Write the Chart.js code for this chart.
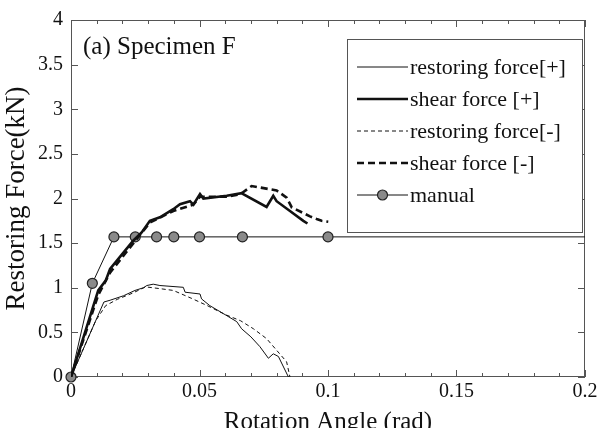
<!DOCTYPE html>
<html>
<head>
<meta charset="utf-8">
<title>Restoring Force - Specimen F</title>
<script src="https://cdn.jsdelivr.net/npm/chart.js@4.4.0/dist/chart.umd.min.js"></script>
<style>
  html, body { margin: 0; padding: 0; background: #fff; overflow: hidden; }
  #wrap { width: 605px; height: 445px; position: relative; }
</style>
</head>
<body>
<div id="wrap"><canvas id="forceChart"></canvas></div>
<script>
// rotation angle (rad) / force (kN) for each curve
const restPosAngle = [0, 0.0128, 0.0152, 0.0204, 0.0249, 0.0282, 0.0295, 0.032, 0.0346, 0.0437, 0.0444, 0.0502, 0.0508, 0.054, 0.0593, 0.0645, 0.0664, 0.070, 0.0735, 0.0768, 0.0787, 0.0807, 0.0846];
const restPosForce = [0, 0.84, 0.86, 0.91, 0.97, 1.00, 1.025, 1.04, 1.025, 1.005, 0.95, 0.93, 0.875, 0.80, 0.71, 0.62, 0.54, 0.45, 0.34, 0.21, 0.26, 0.23, 0];

const shearPosAngle = [0, 0.0106, 0.0135, 0.0152, 0.020, 0.0243, 0.0275, 0.0307, 0.0346, 0.0398, 0.0424, 0.0463, 0.0476, 0.0502, 0.0515, 0.0606, 0.0664, 0.067, 0.0761, 0.0787, 0.080, 0.0852, 0.0904, 0.092];
const shearPosForce = [0, 0.97, 1.08, 1.21, 1.38, 1.53, 1.62, 1.75, 1.79, 1.88, 1.935, 1.97, 1.93, 2.05, 2.00, 2.03, 2.06, 2.05, 1.905, 2.03, 1.97, 1.86, 1.75, 1.72];

const restNegAngle = [0, 0.0096, 0.0135, 0.018, 0.024, 0.029, 0.0346, 0.0398, 0.047, 0.053, 0.060, 0.066, 0.071, 0.0761, 0.080, 0.0839, 0.0852];
const restNegForce = [0, 0.63, 0.80, 0.87, 0.94, 1.01, 0.99, 0.97, 0.88, 0.80, 0.70, 0.63, 0.54, 0.43, 0.30, 0.17, 0];

const shearNegAngle = [0, 0.0106, 0.0152, 0.0243, 0.0307, 0.0398, 0.0476, 0.0502, 0.0606, 0.066, 0.0703, 0.080, 0.0839, 0.0859, 0.093, 0.0956, 0.0975, 0.1001];
const shearNegForce = [0, 0.92, 1.17, 1.50, 1.73, 1.86, 1.93, 2.02, 2.02, 2.05, 2.14, 2.09, 2.01, 1.90, 1.80, 1.77, 1.75, 1.74];

const manualAngle = [0, 0.0083, 0.0167, 0.025, 0.0333, 0.04, 0.05, 0.0667, 0.1, 0.2];
const manualForce = [0, 1.05, 1.57, 1.57, 1.57, 1.57, 1.57, 1.57, 1.57, 1.57];

const seriesNames = ['restoring force[+]', 'shear force [+]', 'restoring force[-]', 'shear force [-]', 'manual'];

const xTickValues = [0, 0.05, 0.1, 0.15, 0.2];
const xTickLabels = ['0', '0.05', '0.1', '0.15', '0.2'];
const yTickValues = [0, 0.5, 1, 1.5, 2, 2.5, 3, 3.5, 4];
const yTickLabels = ['0', '0.5', '1', '1.5', '2', '2.5', '3', '3.5', '4'];

const SERIF = '"Liberation Serif", "DejaVu Serif", serif';
const INK = '#111';

const toPoints = (xs, ys) => xs.map((x, i) => ({ x, y: ys[i] }));

// box frame with inward ticks on all four sides
const frameTicks = {
    id: 'frameTicks',
    beforeDatasetsDraw(chart) {
        const { ctx, chartArea: a, scales: { x, y } } = chart;
        ctx.save();
        ctx.strokeStyle = '#555';
        ctx.lineWidth = 1;
        ctx.strokeRect(a.left + 0.5, a.top + 0.5, a.width - 1, a.height - 1);
        ctx.beginPath();
        for (let i = 0; i <= 20; i++) {
            const px = Math.round(x.getPixelForValue(i * 0.01)) + 0.5;
            const len = i % 5 === 0 ? 7 : 4;
            ctx.moveTo(px, a.bottom); ctx.lineTo(px, a.bottom - len);
            ctx.moveTo(px, a.top); ctx.lineTo(px, a.top + len);
        }
        yTickValues.forEach(v => {
            const py = Math.round(y.getPixelForValue(v)) + 0.5;
            ctx.moveTo(a.left, py); ctx.lineTo(a.left + 7, py);
            ctx.moveTo(a.right, py); ctx.lineTo(a.right - 7, py);
        });
        ctx.stroke();
        ctx.restore();
    }
};

// panel caption and boxed legend inside the plot
const panelLegend = {
    id: 'panelLegend',
    afterDraw(chart) {
        const { ctx, chartArea: a } = chart;
        ctx.save();
        ctx.fillStyle = INK;
        ctx.font = '25px ' + SERIF;
        ctx.textBaseline = 'alphabetic';
        ctx.fillText('(a) Specimen F', a.left + 12, a.top + 34);

        const box = { left: a.right - 238, top: a.top + 19, right: a.right - 3, bottom: a.top + 212 };
        ctx.fillStyle = '#fff';
        ctx.fillRect(box.left, box.top, box.right - box.left, box.bottom - box.top);
        ctx.strokeStyle = '#555';
        ctx.lineWidth = 1;
        ctx.strokeRect(box.left + 0.5, box.top + 0.5, box.right - box.left, box.bottom - box.top);

        ctx.font = '22px ' + SERIF;
        ctx.textBaseline = 'middle';
        chart.data.datasets.forEach((ds, i) => {
            const cy = box.top + 28 + i * 32;
            const x0 = box.left + 10, x1 = box.left + 61;
            ctx.strokeStyle = INK;
            ctx.lineWidth = ds.borderWidth;
            ctx.setLineDash(ds.borderDash || []);
            ctx.beginPath();
            ctx.moveTo(x0, cy); ctx.lineTo(x1, cy);
            ctx.stroke();
            ctx.setLineDash([]);
            if (ds.label === 'manual') {
                ctx.beginPath();
                ctx.arc((x0 + x1) / 2, cy, 5, 0, Math.PI * 2);
                ctx.fillStyle = ds.pointBackgroundColor;
                ctx.fill();
                ctx.lineWidth = 1.2;
                ctx.strokeStyle = ds.pointBorderColor;
                ctx.stroke();
            }
            ctx.fillStyle = INK;
            ctx.fillText(ds.label, x1 + 2, cy + 1);
        });
        ctx.restore();
    }
};

const lineSet = (label, xs, ys, width, dash) => ({
    label,
    data: toPoints(xs, ys),
    borderColor: INK,
    borderWidth: width,
    borderDash: dash,
    pointRadius: 0,
    tension: 0,
    fill: false
});

const ctx = document.getElementById('forceChart').getContext('2d');

new Chart(ctx, {
    type: 'line',
    data: {
        datasets: [
            lineSet(seriesNames[0], restPosAngle, restPosForce, 1, []),
            lineSet(seriesNames[1], shearPosAngle, shearPosForce, 2.6, []),
            lineSet(seriesNames[2], restNegAngle, restNegForce, 1, [4, 3]),
            lineSet(seriesNames[3], shearNegAngle, shearNegForce, 2.6, [7, 4]),
            {
                label: seriesNames[4],
                data: toPoints(manualAngle, manualForce),
                borderColor: INK,
                borderWidth: 1,
                borderDash: [],
                pointStyle: 'circle',
                pointRadius: c => (c.dataIndex === manualAngle.length - 1 ? 0 : 5),
                pointBackgroundColor: '#8a8a8a',
                pointBorderColor: '#222',
                pointBorderWidth: 1.2,
                tension: 0,
                clip: false
            }
        ]
    },
    options: {
        responsive: true,
        maintainAspectRatio: false,
        animation: false,
        layout: { padding: { top: 18, right: 20, left: 0, bottom: 0 } },
        plugins: {
            legend: { display: false },
            tooltip: { enabled: false }
        },
        scales: {
            x: {
                type: 'linear',
                min: 0,
                max: 0.2,
                afterFit: s => { s.height = 68; },
                afterBuildTicks: s => { s.ticks = xTickValues.map(v => ({ value: v })); },
                grid: { display: false, drawTicks: false },
                border: { display: false },
                ticks: {
                    color: INK,
                    padding: 3,
                    maxRotation: 0,
                    font: { family: SERIF, size: 20 },
                    callback: (v, i) => xTickLabels[i]
                },
                title: {
                    display: true,
                    text: 'Rotation Angle (rad)',
                    color: INK,
                    font: { family: SERIF, size: 25 },
                    padding: { top: 0, bottom: 8 }
                }
            },
            y: {
                type: 'linear',
                min: 0,
                max: 4,
                afterFit: s => { s.width = 71; },
                afterBuildTicks: s => { s.ticks = yTickValues.map(v => ({ value: v })); },
                grid: { display: false, drawTicks: false },
                border: { display: false },
                ticks: {
                    color: INK,
                    padding: 8,
                    font: { family: SERIF, size: 20 },
                    callback: (v, i) => yTickLabels[i]
                },
                title: {
                    display: true,
                    text: 'Restoring Force(kN)',
                    color: INK,
                    font: { family: SERIF, size: 27 },
                    padding: { top: 1, bottom: 0 }
                }
            }
        }
    },
    plugins: [frameTicks, panelLegend]
});
</script>
</body>
</html>
